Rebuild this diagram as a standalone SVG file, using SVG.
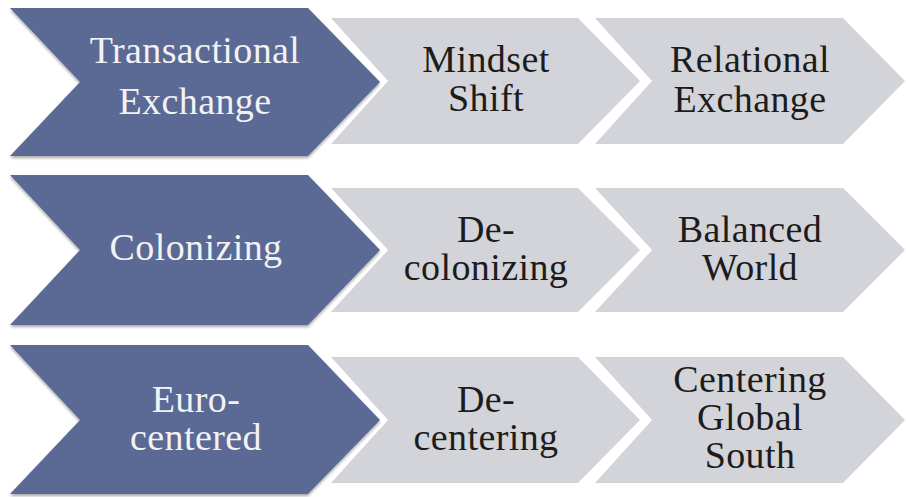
<svg xmlns="http://www.w3.org/2000/svg" width="906" height="497" viewBox="0 0 906 497">
<defs>
<filter id="sh" x="-5%" y="-5%" width="110%" height="115%">
<feGaussianBlur in="SourceAlpha" stdDeviation="1.5"/>
<feOffset dx="0" dy="2" result="b"/>
<feComponentTransfer><feFuncA type="linear" slope="0.35"/></feComponentTransfer>
<feMerge><feMergeNode/><feMergeNode in="SourceGraphic"/></feMerge>
</filter>
</defs>
<style>
.blue{fill:#5a6a95;filter:url(#sh)}
.gray{fill:#d3d4d9}
text{font-size:38px;text-anchor:middle;letter-spacing:0.4px}
.bt{fill:#f2f2f4}
.gt{fill:#1c1c1c}
</style>
<rect width="906" height="497" fill="#ffffff"/>
<g font-family="Liberation Serif, DejaVu Serif, serif">
<g id="row1">
<g id="transactional">
<polygon class="blue" points="10,8 308,8 380,82 308,156 10,156 80,82"/>
<text class="bt" x="195" y="63">Transactional</text>
<text class="bt" x="195" y="114">Exchange</text>
</g>
<g id="mindset">
<polygon class="gray" points="331,18 578,18 640,81 578,144 331,144 388,81"/>
<text class="gt" x="486" y="72">Mindset</text>
<text class="gt" x="486" y="111">Shift</text>
</g>
<g id="relational">
<polygon class="gray" points="595,18 843,18 905,81 843,144 595,144 652,81"/>
<text class="gt" x="750" y="72">Relational</text>
<text class="gt" x="750" y="112">Exchange</text>
</g>
</g>
<g id="row2">
<g id="colonizing">
<polygon class="blue" points="10,175 308,175 380,250 308,325 10,325 80,250"/>
<text class="bt" x="196" y="260">Colonizing</text>
</g>
<g id="decolonizing">
<polygon class="gray" points="331,188 578,188 640,250 578,312 331,312 388,250"/>
<text class="gt" x="486" y="242">De-</text>
<text class="gt" x="486" y="280">colonizing</text>
</g>
<g id="balanced">
<polygon class="gray" points="595,188 843,188 905,250 843,312 595,312 652,250"/>
<text class="gt" x="750" y="242">Balanced</text>
<text class="gt" x="750" y="280">World</text>
</g>
</g>
<g id="row3">
<g id="eurocentered">
<polygon class="blue" points="10,345 308,345 380,420 308,494 10,494 80,420"/>
<text class="bt" x="196" y="412">Euro-</text>
<text class="bt" x="196" y="450">centered</text>
</g>
<g id="decentering">
<polygon class="gray" points="331,357 578,357 640,420 578,483 331,483 388,420"/>
<text class="gt" x="486" y="412">De-</text>
<text class="gt" x="486" y="450">centering</text>
</g>
<g id="centering">
<polygon class="gray" points="595,357 843,357 905,420 843,483 595,483 652,420"/>
<text class="gt" x="750" y="392">Centering</text>
<text class="gt" x="750" y="430">Global</text>
<text class="gt" x="750" y="468">South</text>
</g>
</g>
</g>
<g id="connectors"/>
</svg>
